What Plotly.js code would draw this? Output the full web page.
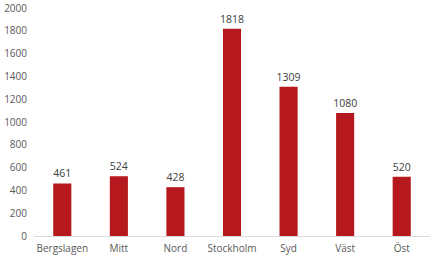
<!DOCTYPE html>
<html><head><meta charset="utf-8">
<script src="https://cdn.plot.ly/plotly-3.0.1.min.js"></script>
<style>html,body{margin:0;padding:0;background:#fff}#c{width:435px;height:263px}</style>
</head><body><div id="c"></div>
<script>
const categories = ["Bergslagen","Mitt","Nord","Stockholm","Syd","Väst","Öst"];
const values = [461,524,428,1818,1309,1080,520];
const yTicks = [0,200,400,600,800,1000,1200,1400,1600,1800,2000];

Plotly.newPlot("c", [{
  type: "bar", x: categories, y: values,
  marker: {color: "#B5191E"},
  text: values.map(String), textposition: "outside", constraintext: "none",
  textfont: {size: 10.5, color: "#404040", family: "Open Sans, sans-serif"},
  cliponaxis: false, hoverinfo: "none"
}], {
  width: 435, height: 263,
  margin: {l: 34, r: 5, t: 8, b: 27},
  paper_bgcolor: "#fff", plot_bgcolor: "#fff",
  bargap: 0.68,
  font: {family: "Open Sans, sans-serif", size: 10, color: "#595959"},
  xaxis: {showgrid: false, showline: true, linecolor: "#d9d9d9", linewidth: 1, ticks: "", tickfont: {size: 10}, ticklabelstandoff: 3},
  yaxis: {range: [0, 2000], tickvals: yTicks, showgrid: false, zeroline: false, showline: false, ticks: "", tickfont: {size: 10}, ticklabelstandoff: 6},
  showlegend: false
}, {displayModeBar: false, staticPlot: true});
</script></body></html>
